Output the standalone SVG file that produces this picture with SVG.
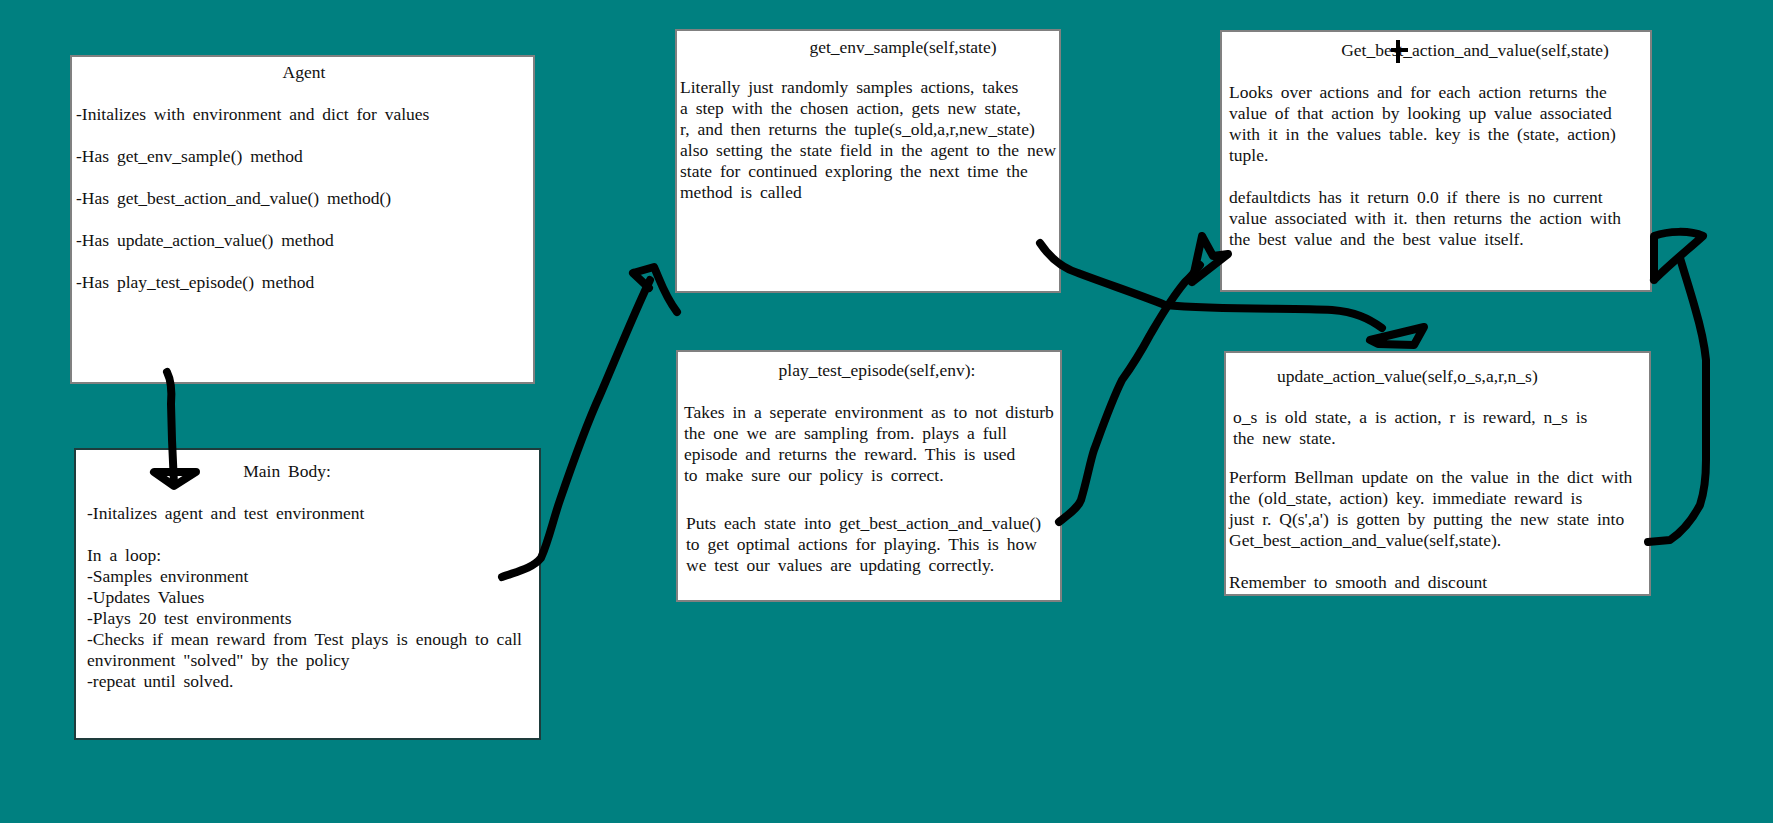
<svg xmlns="http://www.w3.org/2000/svg" width="1773" height="823" viewBox="0 0 1773 823">
<style>
.box{fill:#ffffff;stroke:#808080;stroke-width:2}
.box2{fill:#ffffff;stroke:#1e3c3c;stroke-width:2}
text{font-family:"Liberation Serif","Times New Roman",serif;font-size:17.5px;fill:#111;word-spacing:3.5px}
.c{text-anchor:middle}
.ink{fill:none;stroke:#000;stroke-width:8;stroke-linecap:round;stroke-linejoin:round}
</style>
<rect width="1773" height="823" fill="#008080"/>
<g id="agent">
<rect class="box" x="71" y="56" width="463" height="327"/>
<text class="c" x="304" y="78">Agent</text>
<text x="76" y="120">-Initalizes with environment and dict for values</text>
<text x="76" y="162">-Has get_env_sample() method</text>
<text x="76" y="204">-Has get_best_action_and_value() method()</text>
<text x="76" y="246">-Has update_action_value() method</text>
<text x="76" y="288">-Has play_test_episode() method</text>
</g>
<g id="main-body">
<rect class="box2" x="75" y="449" width="465" height="290"/>
<text class="c" x="287" y="477">Main Body:</text>
<text x="87" y="519">-Initalizes agent and test environment</text>
<text x="87" y="561">In a loop:</text>
<text x="87" y="582">-Samples environment</text>
<text x="87" y="603">-Updates Values</text>
<text x="87" y="624">-Plays 20 test environments</text>
<text x="87" y="645">-Checks if mean reward from Test plays is enough to call</text>
<text x="87" y="666">environment "solved" by the policy</text>
<text x="87" y="687">-repeat until solved.</text>
</g>
<g id="get-env-sample">
<rect class="box" x="676" y="30" width="384" height="262"/>
<text class="c" x="903" y="53">get_env_sample(self,state)</text>
<text x="680" y="93">Literally just randomly samples actions, takes</text>
<text x="680" y="114">a step with the chosen action, gets new state,</text>
<text x="680" y="135">r, and then returns the tuple(s_old,a,r,new_state)</text>
<text x="680" y="156">also setting the state field in the agent to the new</text>
<text x="680" y="177">state for continued exploring the next time the</text>
<text x="680" y="198">method is called</text>
</g>
<g id="play-test-episode">
<rect class="box" x="677" y="351" width="384" height="250"/>
<text class="c" x="877" y="376">play_test_episode(self,env):</text>
<text x="684" y="418">Takes in a seperate environment as to not disturb</text>
<text x="684" y="439">the one we are sampling from. plays a full</text>
<text x="684" y="460">episode and returns the reward. This is used</text>
<text x="684" y="481">to make sure our policy is correct.</text>
<text x="686" y="529">Puts each state into get_best_action_and_value()</text>
<text x="686" y="550">to get optimal actions for playing. This is how</text>
<text x="686" y="571">we test our values are updating correctly.</text>
</g>
<g id="get-best-action-and-value">
<rect class="box" x="1221" y="31" width="430" height="260"/>
<text class="c" x="1475" y="56">Get_best_action_and_value(self,state)</text>
<text x="1229" y="98">Looks over actions and for each action returns the</text>
<text x="1229" y="119">value of that action by looking up value associated</text>
<text x="1229" y="140">with it in the values table. key is the (state, action)</text>
<text x="1229" y="161">tuple.</text>
<text x="1229" y="203">defaultdicts has it return 0.0 if there is no current</text>
<text x="1229" y="224">value associated with it. then returns the action with</text>
<text x="1229" y="245">the best value and the best value itself.</text>
</g>
<g id="update-action-value">
<rect class="box" x="1225" y="352" width="425" height="243"/>
<text x="1277" y="382">update_action_value(self,o_s,a,r,n_s)</text>
<text x="1233" y="423">o_s is old state, a is action, r is reward, n_s is</text>
<text x="1233" y="444">the new state.</text>
<text x="1229" y="483">Perform Bellman update on the value in the dict with</text>
<text x="1229" y="504">the (old_state, action) key. immediate reward is</text>
<text x="1229" y="525">just r. Q(s',a') is gotten by putting the new state into</text>
<text x="1229" y="546">Get_best_action_and_value(self,state).</text>
<text x="1229" y="588">Remember to smooth and discount</text>
</g>
<g id="connectors">
<path class="ink" d="M167,372 C171,380 172,392 171,404 L172,440 L174,484"/>
<path class="ink" d="M154,472 L196,472 L174,486 Z"/>
<path class="ink" d="M502,577 C515,572 532,569 541,558 C549,540 553,520 560,500 C572,465 584,430 600,395 C616,358 632,318 650,280"/>
<path class="ink" d="M633,273 L654,267 C660,280 664,295 677,312 M633,273 L649,288"/>
<path class="ink" d="M1040,243 C1050,258 1062,268 1078,273 C1110,285 1140,295 1165,305 C1220,310 1290,308 1332,310 C1355,312 1368,318 1382,328"/>
<path class="ink" d="M1370,340 L1424,327 L1414,345 L1378,344 Z"/>
<path class="ink" d="M1059,522 C1068,515 1078,508 1081,500 C1087,480 1090,462 1094,450 C1105,420 1112,400 1122,380 C1135,362 1143,348 1150,335 C1160,318 1170,300 1185,282 C1192,276 1196,270 1200,265"/>
<path class="ink" d="M1192,282 L1202,236 L1213,256 L1228,254 L1192,282"/>
<path class="ink" d="M1648,542 L1670,540 C1682,532 1692,520 1700,505 C1705,490 1706,475 1706,460 L1706,360 C1704,340 1700,325 1695,308 C1690,290 1685,275 1680,258"/>
<path class="ink" d="M1654,280 L1654,236 C1668,231 1690,230 1703,236 C1690,248 1672,262 1654,280"/>
<path d="M1398,40 L1398,63 M1391,50 L1408,50" fill="none" stroke="#000" stroke-width="4"/>
</g>
</svg>
